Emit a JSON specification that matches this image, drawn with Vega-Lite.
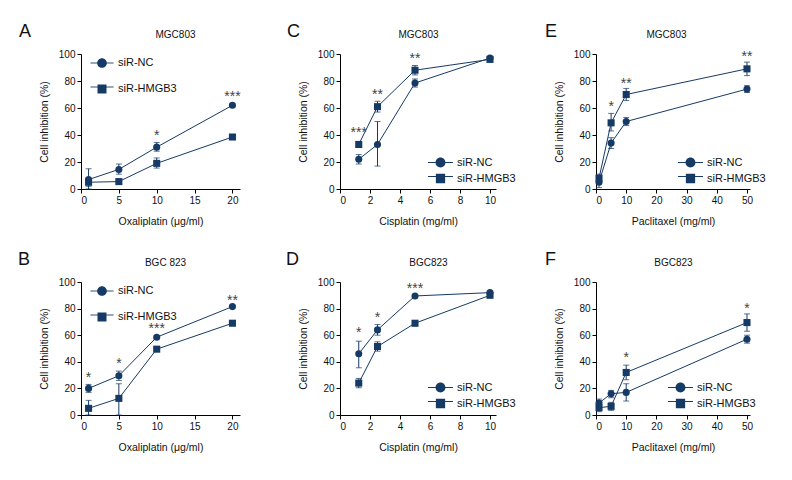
{
"$schema": "https://vega.github.io/schema/vega-lite/v6.json",
"padding": {"left": 18, "top": 23, "right": 5, "bottom": 5},
"config": {
 "font": "Liberation Sans",
 "view": {"stroke": null},
 "axis": {"grid": false, "domainColor": "#000", "tickColor": "#000", "labelColor": "#111", "titleColor": "#111", "labelFontSize": 10, "titleFontSize": 10.5, "titleFontWeight": "normal", "tickSize": 4, "labelPadding": 2, "titlePadding": 9},
 "axisX": {"titlePadding": 11},
 "title": {"fontWeight": "normal", "color": "#111"},
 "legend": {"title": null, "orient": "none", "labelFontSize": 11, "labelOffset": 4, "labelColor": "#111", "padding": 0, "symbolStrokeColor": "#163a66", "symbolFillColor": "#163a66", "symbolStrokeWidth": 1}
},
"datasets": {
 "pts": [
  {"p":"A","g":"siR-NC","x":1,"y":7,"lo":0,"hi":15},
  {"p":"A","g":"siR-NC","x":5,"y":14.5,"lo":11,"hi":18.5},
  {"p":"A","g":"siR-NC","x":10,"y":31,"lo":28,"hi":34.5},
  {"p":"A","g":"siR-NC","x":20,"y":62,"lo":61,"hi":63},
  {"p":"A","g":"siR-HMGB3","x":1,"y":5,"lo":2,"hi":8},
  {"p":"A","g":"siR-HMGB3","x":5,"y":5.5,"lo":4.5,"hi":6.5},
  {"p":"A","g":"siR-HMGB3","x":10,"y":19,"lo":15.5,"hi":23},
  {"p":"A","g":"siR-HMGB3","x":20,"y":38.5,"lo":37.5,"hi":39.5},
  {"p":"B","g":"siR-NC","x":1,"y":20,"lo":17,"hi":23},
  {"p":"B","g":"siR-NC","x":5,"y":29.5,"lo":26,"hi":33},
  {"p":"B","g":"siR-NC","x":10,"y":58.5,"lo":57.5,"hi":59.5},
  {"p":"B","g":"siR-NC","x":20,"y":81.5,"lo":80.5,"hi":82.5},
  {"p":"B","g":"siR-HMGB3","x":1,"y":5,"lo":0,"hi":11},
  {"p":"B","g":"siR-HMGB3","x":5,"y":12.5,"lo":0,"hi":23.5},
  {"p":"B","g":"siR-HMGB3","x":10,"y":49.5,"lo":48.5,"hi":50.5},
  {"p":"B","g":"siR-HMGB3","x":20,"y":69,"lo":68,"hi":70},
  {"p":"C","g":"siR-NC","x":1.25,"y":22,"lo":18.5,"hi":25.5},
  {"p":"C","g":"siR-NC","x":2.5,"y":33,"lo":17,"hi":50},
  {"p":"C","g":"siR-NC","x":5,"y":78.5,"lo":75.5,"hi":81.5},
  {"p":"C","g":"siR-NC","x":10,"y":97,"lo":96,"hi":98},
  {"p":"C","g":"siR-HMGB3","x":1.25,"y":33,"lo":31,"hi":35},
  {"p":"C","g":"siR-HMGB3","x":2.5,"y":61,"lo":57,"hi":65},
  {"p":"C","g":"siR-HMGB3","x":5,"y":88,"lo":84.5,"hi":91.5},
  {"p":"C","g":"siR-HMGB3","x":10,"y":96,"lo":95,"hi":97},
  {"p":"D","g":"siR-NC","x":1.25,"y":46,"lo":35.5,"hi":55.5},
  {"p":"D","g":"siR-NC","x":2.5,"y":64,"lo":60,"hi":68},
  {"p":"D","g":"siR-NC","x":5,"y":89.5,"lo":88.5,"hi":90.5},
  {"p":"D","g":"siR-NC","x":10,"y":92,"lo":91,"hi":93},
  {"p":"D","g":"siR-HMGB3","x":1.25,"y":24,"lo":20.5,"hi":27.5},
  {"p":"D","g":"siR-HMGB3","x":2.5,"y":51.5,"lo":48,"hi":55},
  {"p":"D","g":"siR-HMGB3","x":5,"y":69,"lo":67,"hi":71},
  {"p":"D","g":"siR-HMGB3","x":10,"y":90,"lo":89,"hi":91},
  {"p":"E","g":"siR-NC","x":1,"y":5,"lo":1,"hi":9},
  {"p":"E","g":"siR-NC","x":5,"y":34,"lo":30,"hi":38},
  {"p":"E","g":"siR-NC","x":10,"y":50,"lo":47,"hi":53},
  {"p":"E","g":"siR-NC","x":50,"y":74,"lo":71.5,"hi":76.5},
  {"p":"E","g":"siR-HMGB3","x":1,"y":8,"lo":5,"hi":11},
  {"p":"E","g":"siR-HMGB3","x":5,"y":49,"lo":43,"hi":56},
  {"p":"E","g":"siR-HMGB3","x":10,"y":70,"lo":65.5,"hi":74.5},
  {"p":"E","g":"siR-HMGB3","x":50,"y":89,"lo":84,"hi":94},
  {"p":"F","g":"siR-NC","x":1,"y":9,"lo":6,"hi":12},
  {"p":"F","g":"siR-NC","x":5,"y":16,"lo":13,"hi":18.5},
  {"p":"F","g":"siR-NC","x":10,"y":17,"lo":10.5,"hi":23.5},
  {"p":"F","g":"siR-NC","x":50,"y":57,"lo":54,"hi":60},
  {"p":"F","g":"siR-HMGB3","x":1,"y":5.5,"lo":2.5,"hi":8.5},
  {"p":"F","g":"siR-HMGB3","x":5,"y":6.5,"lo":3.5,"hi":9.5},
  {"p":"F","g":"siR-HMGB3","x":10,"y":32,"lo":26.5,"hi":37.5},
  {"p":"F","g":"siR-HMGB3","x":50,"y":69.5,"lo":63,"hi":76}
 ],
 "sig": [
  {"p":"A","x":10,"y":39,"s":"*"},
  {"p":"A","x":20,"y":68.5,"s":"***"},
  {"p":"B","x":1,"y":27.5,"s":"*"},
  {"p":"B","x":5,"y":38,"s":"*"},
  {"p":"B","x":10,"y":65,"s":"***"},
  {"p":"B","x":20,"y":86,"s":"**"},
  {"p":"C","x":1.25,"y":41.5,"s":"***"},
  {"p":"C","x":2.5,"y":70,"s":"**"},
  {"p":"C","x":5,"y":96,"s":"**"},
  {"p":"D","x":1.25,"y":62,"s":"*"},
  {"p":"D","x":2.5,"y":73,"s":"*"},
  {"p":"D","x":5,"y":95,"s":"***"},
  {"p":"E","x":5,"y":60.5,"s":"*"},
  {"p":"E","x":10,"y":78,"s":"**"},
  {"p":"E","x":50,"y":97.5,"s":"**"},
  {"p":"F","x":10,"y":43,"s":"*"},
  {"p":"F","x":50,"y":80,"s":"*"}
 ]
},
"bounds": "flush",
"align": "each",
"columns": 3,
"spacing": {"row": 93, "column": 100},
"resolve": {"scale": {"strokeDash": "independent", "shape": "independent"}, "legend": {"strokeDash": "independent", "shape": "independent"}},
"concat": [
 {"title": {"text": "A", "anchor": "start", "frame": "group", "fontSize": 18, "dx": -62, "dy": 26, "offset": 0, "baseline": "alphabetic"},
  "width": 159, "height": 135,
  "layer": [
   {"data": {"name": "pts"}, "transform": [{"filter": "datum.p==='A'"}],
    "mark": {"type": "errorbar", "ticks": {"size": 6}, "color": "#163a66", "thickness": 1},
    "encoding": {"x": {"field": "x", "type": "quantitative", "scale": {"domain": [0, 21], "nice": false}, "axis": {"title": "Oxaliplatin (μg/ml)", "values": [0, 5, 10, 15, 20]}},
     "y": {"field": "lo", "type": "quantitative", "scale": {"domain": [0, 100]}, "axis": {"title": "Cell inhibition (%)", "values": [0, 20, 40, 60, 80, 100]}}, "y2": {"field": "hi"}}},
   {"data": {"name": "pts"}, "transform": [{"filter": "datum.p==='A'"}],
    "mark": {"type": "line", "color": "#163a66", "strokeWidth": 1},
    "encoding": {"x": {"field": "x", "type": "quantitative", "axis": null},
     "y": {"field": "y", "type": "quantitative", "axis": {"title": "Cell inhibition (%)", "values": [0, 20, 40, 60, 80, 100]}}, "detail": {"field": "g"}}},
   {"data": {"name": "pts"}, "transform": [{"filter": "datum.p==='A'"}],
    "mark": {"type": "point", "filled": true, "color": "#163a66", "opacity": 1, "size": 50},
    "encoding": {"x": {"field": "x", "type": "quantitative", "axis": null},
     "y": {"field": "y", "type": "quantitative", "axis": {"title": "Cell inhibition (%)", "values": [0, 20, 40, 60, 80, 100]}},
     "shape": {"field": "g", "type": "nominal", "scale": {"domain": ["siR-NC", "siR-HMGB3"], "range": ["circle", "square"]}, "legend": null}}},
   {"data": {"name": "sig"}, "transform": [{"filter": "datum.p==='A'"}],
    "mark": {"type": "text", "fill": "#444", "fontSize": 14, "baseline": "middle"},
    "encoding": {"x": {"field": "x", "type": "quantitative", "axis": null},
     "y": {"field": "y", "type": "quantitative", "axis": {"title": "Cell inhibition (%)", "values": [0, 20, 40, 60, 80, 100]}}, "text": {"field": "s"}}},
   {"data": {"name": "pts"}, "transform": [{"filter": "false"}],
    "mark": {"type": "point", "filled": true, "color": "#163a66", "opacity": 1},
    "encoding": {"shape": {"field": "g", "type": "nominal", "scale": {"domain": ["siR-NC", "siR-HMGB3"], "range": ["M-1,0H1M-0.42,0A0.42,0.42,0,1,1,0.42,0A0.42,0.42,0,1,1,-0.42,0Z", "M-1,0H1M-0.39,-0.39H0.39V0.39H-0.39Z"]},
     "legend": {"legendX": 9, "legendY": -3, "symbolSize": 529, "rowPadding": 7}}}},
   {"data": {"name": "pts"}, "transform": [{"filter": "false"}],
    "mark": {"type": "line", "color": "#163a66", "strokeWidth": 1},
    "encoding": {"x": {"field": "x", "type": "quantitative", "axis": {"orient": "top", "title": "MGC803", "titleFontSize": 10, "titlePadding": 15, "titleX": 94, "domain": false, "ticks": false, "labels": false}},
     "strokeDash": {"field": "g", "type": "nominal", "scale": {"domain": ["NC", "HMGB3"], "range": [[1, 0], [1, 0]]},
     "legend": {"legendX": 9, "legendY": -3, "symbolSize": 529, "rowPadding": 7, "symbolType": "M-1,0H1", "labelExpr": "''", "symbolStrokeColor": "#163a66"}}}}
  ],
  "resolve": {"scale": {"shape": "independent"}, "axis": {"x": "independent"}}
 },
 {"title": {"text": "C", "anchor": "start", "frame": "group", "fontSize": 18, "dx": -53, "dy": 26, "offset": 0, "baseline": "alphabetic"},
  "width": 156, "height": 135,
  "layer": [
   {"data": {"name": "pts"}, "transform": [{"filter": "datum.p==='C'"}],
    "mark": {"type": "errorbar", "ticks": {"size": 6}, "color": "#163a66", "thickness": 1},
    "encoding": {"x": {"field": "x", "type": "quantitative", "scale": {"domain": [0, 10.4], "nice": false}, "axis": {"title": "Cisplatin (mg/ml)", "values": [0, 2, 4, 6, 8, 10]}},
     "y": {"field": "lo", "type": "quantitative", "scale": {"domain": [0, 100]}, "axis": {"title": "Cell inhibition (%)", "values": [0, 20, 40, 60, 80, 100]}}, "y2": {"field": "hi"}}},
   {"data": {"name": "pts"}, "transform": [{"filter": "datum.p==='C'"}],
    "mark": {"type": "line", "color": "#163a66", "strokeWidth": 1},
    "encoding": {"x": {"field": "x", "type": "quantitative", "axis": null},
     "y": {"field": "y", "type": "quantitative", "axis": {"title": "Cell inhibition (%)", "values": [0, 20, 40, 60, 80, 100]}}, "detail": {"field": "g"}}},
   {"data": {"name": "pts"}, "transform": [{"filter": "datum.p==='C'"}],
    "mark": {"type": "point", "filled": true, "color": "#163a66", "opacity": 1, "size": 50},
    "encoding": {"x": {"field": "x", "type": "quantitative", "axis": null},
     "y": {"field": "y", "type": "quantitative", "axis": {"title": "Cell inhibition (%)", "values": [0, 20, 40, 60, 80, 100]}},
     "shape": {"field": "g", "type": "nominal", "scale": {"domain": ["siR-NC", "siR-HMGB3"], "range": ["circle", "square"]}, "legend": null}}},
   {"data": {"name": "sig"}, "transform": [{"filter": "datum.p==='C'"}],
    "mark": {"type": "text", "fill": "#444", "fontSize": 14, "baseline": "middle"},
    "encoding": {"x": {"field": "x", "type": "quantitative", "axis": null},
     "y": {"field": "y", "type": "quantitative", "axis": {"title": "Cell inhibition (%)", "values": [0, 20, 40, 60, 80, 100]}}, "text": {"field": "s"}}},
   {"data": {"name": "pts"}, "transform": [{"filter": "false"}],
    "mark": {"type": "point", "filled": true, "color": "#163a66", "opacity": 1},
    "encoding": {"shape": {"field": "g", "type": "nominal", "scale": {"domain": ["siR-NC", "siR-HMGB3"], "range": ["M-1.56,0H1.56M-0.62,0A0.62,0.62,0,1,1,0.62,0A0.62,0.62,0,1,1,-0.62,0Z", "M-1.56,0H1.56M-0.58,-0.58H0.58V0.58H-0.58Z"]},
     "legend": {"legendX": 92, "legendY": 100, "symbolSize": 256, "rowPadding": 0, "labelOffset": 8}}}},
   {"data": {"name": "pts"}, "transform": [{"filter": "false"}],
    "mark": {"type": "line", "color": "#163a66", "strokeWidth": 1},
    "encoding": {"x": {"field": "x", "type": "quantitative", "axis": {"orient": "top", "title": "MGC803", "titleFontSize": 10, "titlePadding": 15, "domain": false, "ticks": false, "labels": false}},
     "strokeDash": {"field": "g", "type": "nominal", "scale": {"domain": ["NC", "HMGB3"], "range": [[1, 0], [1, 0]]},
     "legend": {"legendX": 92, "legendY": 100, "symbolSize": 256, "rowPadding": 0, "labelOffset": 8, "symbolType": "M-1.56,0H1.56", "labelExpr": "''", "symbolStrokeColor": "#163a66"}}}}
  ],
  "resolve": {"scale": {"shape": "independent"}, "axis": {"x": "independent"}}
 },
 {"title": {"text": "E", "anchor": "start", "frame": "group", "fontSize": 18, "dx": -51, "dy": 26, "offset": 0, "baseline": "alphabetic"},
  "width": 154, "height": 135,
  "layer": [
   {"data": {"name": "pts"}, "transform": [{"filter": "datum.p==='E'"}],
    "mark": {"type": "errorbar", "ticks": {"size": 6}, "color": "#163a66", "thickness": 1},
    "encoding": {"x": {"field": "x", "type": "quantitative", "scale": {"domain": [0, 51], "nice": false}, "axis": {"title": "Paclitaxel (mg/ml)", "values": [0, 10, 20, 30, 40, 50]}},
     "y": {"field": "lo", "type": "quantitative", "scale": {"domain": [0, 100]}, "axis": {"title": "Cell inhibition (%)", "values": [0, 20, 40, 60, 80, 100]}}, "y2": {"field": "hi"}}},
   {"data": {"name": "pts"}, "transform": [{"filter": "datum.p==='E'"}],
    "mark": {"type": "line", "color": "#163a66", "strokeWidth": 1},
    "encoding": {"x": {"field": "x", "type": "quantitative", "axis": null},
     "y": {"field": "y", "type": "quantitative", "axis": {"title": "Cell inhibition (%)", "values": [0, 20, 40, 60, 80, 100]}}, "detail": {"field": "g"}}},
   {"data": {"name": "pts"}, "transform": [{"filter": "datum.p==='E'"}],
    "mark": {"type": "point", "filled": true, "color": "#163a66", "opacity": 1, "size": 50},
    "encoding": {"x": {"field": "x", "type": "quantitative", "axis": null},
     "y": {"field": "y", "type": "quantitative", "axis": {"title": "Cell inhibition (%)", "values": [0, 20, 40, 60, 80, 100]}},
     "shape": {"field": "g", "type": "nominal", "scale": {"domain": ["siR-NC", "siR-HMGB3"], "range": ["circle", "square"]}, "legend": null}}},
   {"data": {"name": "sig"}, "transform": [{"filter": "datum.p==='E'"}],
    "mark": {"type": "text", "fill": "#444", "fontSize": 14, "baseline": "middle"},
    "encoding": {"x": {"field": "x", "type": "quantitative", "axis": null},
     "y": {"field": "y", "type": "quantitative", "axis": {"title": "Cell inhibition (%)", "values": [0, 20, 40, 60, 80, 100]}}, "text": {"field": "s"}}},
   {"data": {"name": "pts"}, "transform": [{"filter": "false"}],
    "mark": {"type": "point", "filled": true, "color": "#163a66", "opacity": 1},
    "encoding": {"shape": {"field": "g", "type": "nominal", "scale": {"domain": ["siR-NC", "siR-HMGB3"], "range": ["M-1.56,0H1.56M-0.62,0A0.62,0.62,0,1,1,0.62,0A0.62,0.62,0,1,1,-0.62,0Z", "M-1.56,0H1.56M-0.58,-0.58H0.58V0.58H-0.58Z"]},
     "legend": {"legendX": 86, "legendY": 100, "symbolSize": 256, "rowPadding": 0, "labelOffset": 8}}}},
   {"data": {"name": "pts"}, "transform": [{"filter": "false"}],
    "mark": {"type": "line", "color": "#163a66", "strokeWidth": 1},
    "encoding": {"x": {"field": "x", "type": "quantitative", "axis": {"orient": "top", "title": "MGC803", "titleFontSize": 10, "titlePadding": 15, "titleX": 70, "domain": false, "ticks": false, "labels": false}},
     "strokeDash": {"field": "g", "type": "nominal", "scale": {"domain": ["NC", "HMGB3"], "range": [[1, 0], [1, 0]]},
     "legend": {"legendX": 86, "legendY": 100, "symbolSize": 256, "rowPadding": 0, "labelOffset": 8, "symbolType": "M-1.56,0H1.56", "labelExpr": "''", "symbolStrokeColor": "#163a66"}}}}
  ],
  "resolve": {"scale": {"shape": "independent"}, "axis": {"x": "independent"}}
 },
 {"title": {"text": "B", "anchor": "start", "frame": "group", "fontSize": 18, "dx": -63, "dy": 26, "offset": 0, "baseline": "alphabetic"},
  "width": 159, "height": 133,
  "layer": [
   {"data": {"name": "pts"}, "transform": [{"filter": "datum.p==='B'"}],
    "mark": {"type": "errorbar", "ticks": {"size": 6}, "color": "#163a66", "thickness": 1},
    "encoding": {"x": {"field": "x", "type": "quantitative", "scale": {"domain": [0, 21], "nice": false}, "axis": {"title": "Oxaliplatin (μg/ml)", "values": [0, 5, 10, 15, 20]}},
     "y": {"field": "lo", "type": "quantitative", "scale": {"domain": [0, 100]}, "axis": {"title": "Cell inhibition (%)", "values": [0, 20, 40, 60, 80, 100]}}, "y2": {"field": "hi"}}},
   {"data": {"name": "pts"}, "transform": [{"filter": "datum.p==='B'"}],
    "mark": {"type": "line", "color": "#163a66", "strokeWidth": 1},
    "encoding": {"x": {"field": "x", "type": "quantitative", "axis": null},
     "y": {"field": "y", "type": "quantitative", "axis": {"title": "Cell inhibition (%)", "values": [0, 20, 40, 60, 80, 100]}}, "detail": {"field": "g"}}},
   {"data": {"name": "pts"}, "transform": [{"filter": "datum.p==='B'"}],
    "mark": {"type": "point", "filled": true, "color": "#163a66", "opacity": 1, "size": 50},
    "encoding": {"x": {"field": "x", "type": "quantitative", "axis": null},
     "y": {"field": "y", "type": "quantitative", "axis": {"title": "Cell inhibition (%)", "values": [0, 20, 40, 60, 80, 100]}},
     "shape": {"field": "g", "type": "nominal", "scale": {"domain": ["siR-NC", "siR-HMGB3"], "range": ["circle", "square"]}, "legend": null}}},
   {"data": {"name": "sig"}, "transform": [{"filter": "datum.p==='B'"}],
    "mark": {"type": "text", "fill": "#444", "fontSize": 14, "baseline": "middle"},
    "encoding": {"x": {"field": "x", "type": "quantitative", "axis": null},
     "y": {"field": "y", "type": "quantitative", "axis": {"title": "Cell inhibition (%)", "values": [0, 20, 40, 60, 80, 100]}}, "text": {"field": "s"}}},
   {"data": {"name": "pts"}, "transform": [{"filter": "false"}],
    "mark": {"type": "point", "filled": true, "color": "#163a66", "opacity": 1},
    "encoding": {"shape": {"field": "g", "type": "nominal", "scale": {"domain": ["siR-NC", "siR-HMGB3"], "range": ["M-1,0H1M-0.42,0A0.42,0.42,0,1,1,0.42,0A0.42,0.42,0,1,1,-0.42,0Z", "M-1,0H1M-0.39,-0.39H0.39V0.39H-0.39Z"]},
     "legend": {"legendX": 9, "legendY": -3, "symbolSize": 529, "rowPadding": 7}}}},
   {"data": {"name": "pts"}, "transform": [{"filter": "false"}],
    "mark": {"type": "line", "color": "#163a66", "strokeWidth": 1},
    "encoding": {"x": {"field": "x", "type": "quantitative", "axis": {"orient": "top", "title": "BGC 823", "titleFontSize": 10, "titlePadding": 15, "titleX": 84, "domain": false, "ticks": false, "labels": false}},
     "strokeDash": {"field": "g", "type": "nominal", "scale": {"domain": ["NC", "HMGB3"], "range": [[1, 0], [1, 0]]},
     "legend": {"legendX": 9, "legendY": -3, "symbolSize": 529, "rowPadding": 7, "symbolType": "M-1,0H1", "labelExpr": "''", "symbolStrokeColor": "#163a66"}}}}
  ],
  "resolve": {"scale": {"shape": "independent"}, "axis": {"x": "independent"}}
 },
 {"title": {"text": "D", "anchor": "start", "frame": "group", "fontSize": 18, "dx": -54, "dy": 26, "offset": 0, "baseline": "alphabetic"},
  "width": 156, "height": 133,
  "layer": [
   {"data": {"name": "pts"}, "transform": [{"filter": "datum.p==='D'"}],
    "mark": {"type": "errorbar", "ticks": {"size": 6}, "color": "#163a66", "thickness": 1},
    "encoding": {"x": {"field": "x", "type": "quantitative", "scale": {"domain": [0, 10.4], "nice": false}, "axis": {"title": "Cisplatin (mg/ml)", "values": [0, 2, 4, 6, 8, 10]}},
     "y": {"field": "lo", "type": "quantitative", "scale": {"domain": [0, 100]}, "axis": {"title": "Cell inhibition (%)", "values": [0, 20, 40, 60, 80, 100]}}, "y2": {"field": "hi"}}},
   {"data": {"name": "pts"}, "transform": [{"filter": "datum.p==='D'"}],
    "mark": {"type": "line", "color": "#163a66", "strokeWidth": 1},
    "encoding": {"x": {"field": "x", "type": "quantitative", "axis": null},
     "y": {"field": "y", "type": "quantitative", "axis": {"title": "Cell inhibition (%)", "values": [0, 20, 40, 60, 80, 100]}}, "detail": {"field": "g"}}},
   {"data": {"name": "pts"}, "transform": [{"filter": "datum.p==='D'"}],
    "mark": {"type": "point", "filled": true, "color": "#163a66", "opacity": 1, "size": 50},
    "encoding": {"x": {"field": "x", "type": "quantitative", "axis": null},
     "y": {"field": "y", "type": "quantitative", "axis": {"title": "Cell inhibition (%)", "values": [0, 20, 40, 60, 80, 100]}},
     "shape": {"field": "g", "type": "nominal", "scale": {"domain": ["siR-NC", "siR-HMGB3"], "range": ["circle", "square"]}, "legend": null}}},
   {"data": {"name": "sig"}, "transform": [{"filter": "datum.p==='D'"}],
    "mark": {"type": "text", "fill": "#444", "fontSize": 14, "baseline": "middle"},
    "encoding": {"x": {"field": "x", "type": "quantitative", "axis": null},
     "y": {"field": "y", "type": "quantitative", "axis": {"title": "Cell inhibition (%)", "values": [0, 20, 40, 60, 80, 100]}}, "text": {"field": "s"}}},
   {"data": {"name": "pts"}, "transform": [{"filter": "false"}],
    "mark": {"type": "point", "filled": true, "color": "#163a66", "opacity": 1},
    "encoding": {"shape": {"field": "g", "type": "nominal", "scale": {"domain": ["siR-NC", "siR-HMGB3"], "range": ["M-1.56,0H1.56M-0.62,0A0.62,0.62,0,1,1,0.62,0A0.62,0.62,0,1,1,-0.62,0Z", "M-1.56,0H1.56M-0.58,-0.58H0.58V0.58H-0.58Z"]},
     "legend": {"legendX": 92, "legendY": 97, "symbolSize": 256, "rowPadding": 0, "labelOffset": 8}}}},
   {"data": {"name": "pts"}, "transform": [{"filter": "false"}],
    "mark": {"type": "line", "color": "#163a66", "strokeWidth": 1},
    "encoding": {"x": {"field": "x", "type": "quantitative", "axis": {"orient": "top", "title": "BGC823", "titleFontSize": 10, "titlePadding": 15, "titleX": 88, "domain": false, "ticks": false, "labels": false}},
     "strokeDash": {"field": "g", "type": "nominal", "scale": {"domain": ["NC", "HMGB3"], "range": [[1, 0], [1, 0]]},
     "legend": {"legendX": 92, "legendY": 97, "symbolSize": 256, "rowPadding": 0, "labelOffset": 8, "symbolType": "M-1.56,0H1.56", "labelExpr": "''", "symbolStrokeColor": "#163a66"}}}}
  ],
  "resolve": {"scale": {"shape": "independent"}, "axis": {"x": "independent"}}
 },
 {"title": {"text": "F", "anchor": "start", "frame": "group", "fontSize": 18, "dx": -51, "dy": 26, "offset": 0, "baseline": "alphabetic"},
  "width": 154, "height": 133,
  "layer": [
   {"data": {"name": "pts"}, "transform": [{"filter": "datum.p==='F'"}],
    "mark": {"type": "errorbar", "ticks": {"size": 6}, "color": "#163a66", "thickness": 1},
    "encoding": {"x": {"field": "x", "type": "quantitative", "scale": {"domain": [0, 51], "nice": false}, "axis": {"title": "Paclitaxel (mg/ml)", "values": [0, 10, 20, 30, 40, 50]}},
     "y": {"field": "lo", "type": "quantitative", "scale": {"domain": [0, 100]}, "axis": {"title": "Cell inhibition (%)", "values": [0, 20, 40, 60, 80, 100]}}, "y2": {"field": "hi"}}},
   {"data": {"name": "pts"}, "transform": [{"filter": "datum.p==='F'"}],
    "mark": {"type": "line", "color": "#163a66", "strokeWidth": 1},
    "encoding": {"x": {"field": "x", "type": "quantitative", "axis": null},
     "y": {"field": "y", "type": "quantitative", "axis": {"title": "Cell inhibition (%)", "values": [0, 20, 40, 60, 80, 100]}}, "detail": {"field": "g"}}},
   {"data": {"name": "pts"}, "transform": [{"filter": "datum.p==='F'"}],
    "mark": {"type": "point", "filled": true, "color": "#163a66", "opacity": 1, "size": 50},
    "encoding": {"x": {"field": "x", "type": "quantitative", "axis": null},
     "y": {"field": "y", "type": "quantitative", "axis": {"title": "Cell inhibition (%)", "values": [0, 20, 40, 60, 80, 100]}},
     "shape": {"field": "g", "type": "nominal", "scale": {"domain": ["siR-NC", "siR-HMGB3"], "range": ["circle", "square"]}, "legend": null}}},
   {"data": {"name": "sig"}, "transform": [{"filter": "datum.p==='F'"}],
    "mark": {"type": "text", "fill": "#444", "fontSize": 14, "baseline": "middle"},
    "encoding": {"x": {"field": "x", "type": "quantitative", "axis": null},
     "y": {"field": "y", "type": "quantitative", "axis": {"title": "Cell inhibition (%)", "values": [0, 20, 40, 60, 80, 100]}}, "text": {"field": "s"}}},
   {"data": {"name": "pts"}, "transform": [{"filter": "false"}],
    "mark": {"type": "point", "filled": true, "color": "#163a66", "opacity": 1},
    "encoding": {"shape": {"field": "g", "type": "nominal", "scale": {"domain": ["siR-NC", "siR-HMGB3"], "range": ["M-1.56,0H1.56M-0.62,0A0.62,0.62,0,1,1,0.62,0A0.62,0.62,0,1,1,-0.62,0Z", "M-1.56,0H1.56M-0.58,-0.58H0.58V0.58H-0.58Z"]},
     "legend": {"legendX": 76, "legendY": 97, "symbolSize": 256, "rowPadding": 0, "labelOffset": 8}}}},
   {"data": {"name": "pts"}, "transform": [{"filter": "false"}],
    "mark": {"type": "line", "color": "#163a66", "strokeWidth": 1},
    "encoding": {"x": {"field": "x", "type": "quantitative", "axis": {"orient": "top", "title": "BGC823", "titleFontSize": 10, "titlePadding": 15, "domain": false, "ticks": false, "labels": false}},
     "strokeDash": {"field": "g", "type": "nominal", "scale": {"domain": ["NC", "HMGB3"], "range": [[1, 0], [1, 0]]},
     "legend": {"legendX": 76, "legendY": 97, "symbolSize": 256, "rowPadding": 0, "labelOffset": 8, "symbolType": "M-1.56,0H1.56", "labelExpr": "''", "symbolStrokeColor": "#163a66"}}}}
  ],
  "resolve": {"scale": {"shape": "independent"}, "axis": {"x": "independent"}}
 }
]
}
